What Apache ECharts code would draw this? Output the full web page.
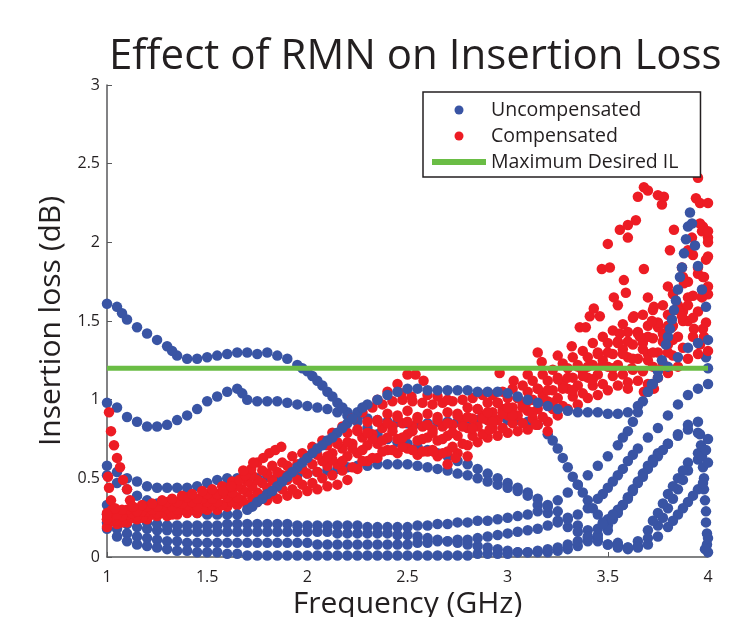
<!DOCTYPE html>
<html><head><meta charset="utf-8">
<script src="https://cdn.jsdelivr.net/npm/echarts@6/dist/echarts.min.js"></script>
<style>html,body{margin:0;padding:0;background:#fff}#c{width:729px;height:617px}</style>
</head><body><div id="c"></div>
<script>
// ---------- data ----------
const freq = [1.00,1.05,1.10,1.15,1.20,1.25,1.30,1.35,1.40,1.45,1.50,1.55,1.60,1.65,1.70,1.75,1.80,1.85,1.90,1.95,
  2.00,2.05,2.10,2.15,2.20,2.25,2.30,2.35,2.40,2.45,2.50,2.55,2.60,2.65,2.70,2.75,2.80,2.85,2.90,2.95,
  3.00,3.05,3.10,3.15,3.20,3.25,3.30,3.35,3.40,3.45,3.50,3.55,3.60,3.65,3.70,3.75,3.80,3.85,3.90,3.95,4.00];
const freqMid = [1.025,1.075,1.125,1.175,1.225,1.275,1.325,1.375,1.425,1.475,1.525,1.575,1.625,1.675,1.725,1.775,1.825,1.875,1.925,1.975,
  2.025,2.075,2.125,2.175,2.225,2.275,2.325,2.375,2.425,2.475,2.525,2.575,2.625,2.675,2.725,2.775,2.825,2.875,2.925,2.975,
  3.025,3.075,3.125,3.175,3.225,3.275,3.325,3.375,3.425,3.475,3.525,3.575,3.625,3.675,3.725,3.775,3.825,3.875,3.925,3.975];

// Uncompensated states (insertion loss, dB) on freq
const uncompA = [1.61,1.59,1.51,1.46,1.42,1.38,1.34,1.28,1.26,1.26,1.27,1.28,1.29,1.30,1.30,1.29,1.30,1.28,1.26,1.22,
  1.18,1.12,1.05,0.98,0.92,0.89,0.88,0.87,0.86,0.86,0.85,0.85,0.85,0.86,0.86,0.86,0.87,0.87,0.87,0.87,
  0.87,0.87,0.86,0.84,0.78,0.69,0.57,0.46,0.36,0.27,0.17,0.09,0.06,0.10,0.17,0.28,0.40,0.50,0.60,0.66,null];
const uncompB = [0.98,0.95,0.89,0.86,0.83,0.83,0.84,0.87,0.90,0.94,0.99,1.02,1.05,1.07,1.00,0.99,0.99,0.99,0.98,0.97,
  0.96,0.95,0.94,0.92,0.90,0.86,0.82,0.78,0.75,0.73,0.72,0.70,0.68,0.66,0.64,0.61,0.59,0.56,0.53,0.50,
  0.47,0.44,0.41,0.37,0.33,0.29,0.25,0.20,0.17,0.12,0.08,0.06,0.05,0.07,0.12,0.20,0.31,0.43,0.55,0.62,null];
const uncompC = [0.58,0.54,0.50,0.48,0.45,0.44,0.44,0.44,0.44,0.45,0.47,0.49,0.50,0.50,0.50,0.50,0.51,0.51,0.52,0.52,
  0.53,0.54,0.55,0.56,0.57,0.58,0.58,0.59,0.59,0.59,0.59,0.58,0.57,0.56,0.55,0.53,0.52,0.50,0.48,0.46,
  0.44,0.42,0.39,0.33,0.28,0.23,0.19,0.16,0.12,0.10,0.08,0.07,0.06,0.06,0.08,0.13,0.19,0.27,0.35,0.43,null];
const uncompD = [0.52,0.47,0.43,0.39,0.36,0.34,0.32,0.30,0.29,0.28,0.27,0.27,0.27,0.27,0.30,0.35,0.40,0.45,0.51,0.57,
  0.63,0.69,0.74,0.79,0.85,0.92,0.97,1.00,1.03,1.05,1.07,1.07,1.06,1.06,1.06,1.06,1.06,1.05,1.05,1.05,
  1.04,1.02,1.00,0.98,0.96,0.94,0.93,0.92,0.92,0.92,0.91,0.91,0.92,0.96,1.05,1.18,1.40,1.70,2.10,null,null];
const uncompE = [0.33,0.29,0.26,0.24,0.22,0.21,0.20,0.20,0.20,0.20,0.20,0.20,0.21,0.21,0.21,0.21,0.21,0.21,0.21,0.20,
  0.20,0.20,0.20,0.20,0.20,0.20,0.19,0.19,0.19,0.19,0.19,0.20,0.20,0.21,0.21,0.22,0.22,0.23,0.23,0.24,
  0.25,0.26,0.27,0.29,0.32,0.36,0.41,0.46,0.52,0.58,0.64,0.71,0.80,0.92,1.05,1.14,1.21,1.27,1.33,1.36,1.38];
const uncompF = [0.27,0.24,0.21,0.19,0.18,0.17,0.17,0.16,0.16,0.16,0.16,0.16,0.16,0.16,0.16,0.16,0.16,0.16,0.16,0.16,
  0.16,0.16,0.16,0.15,0.15,0.15,0.15,0.15,0.15,0.14,0.14,0.13,0.12,0.11,0.10,0.09,0.08,0.07,0.06,0.05,
  0.04,0.03,0.03,0.03,0.03,0.04,0.05,0.07,0.10,0.14,0.20,0.28,0.38,0.48,0.58,0.66,0.72,0.77,0.81,0.79,null];
const uncompG = [0.22,0.18,0.15,0.13,0.12,0.11,0.10,0.10,0.09,0.09,0.09,0.09,0.09,0.09,0.09,0.09,0.09,0.09,0.09,0.09,
  0.09,0.08,0.08,0.08,0.08,0.08,0.08,0.08,0.08,0.08,0.08,0.09,0.09,0.10,0.10,0.11,0.11,0.12,0.13,0.14,
  0.15,0.16,0.17,0.18,0.20,0.22,0.24,0.27,0.31,0.37,0.44,0.52,0.61,0.69,0.76,0.82,0.90,0.97,1.03,1.07,1.10];
const uncompH = [0.18,0.13,0.10,0.08,0.07,0.06,0.05,0.04,0.04,0.03,0.03,0.03,0.02,0.02,0.01,0.01,0.01,0.01,0.01,0.01,
  0.01,0.01,0.01,0.01,0.01,0.01,0.01,0.01,0.01,0.01,0.01,0.01,0.01,0.01,0.01,0.01,0.01,0.02,0.02,0.02,
  0.02,0.03,0.03,0.04,0.05,0.06,0.08,0.10,0.13,0.18,0.24,0.30,0.37,0.47,0.56,0.64,0.72,0.78,0.84,0.86,null];
// extra uncompensated samples on steep stretches
const uncompExtra = [[1.075,1.55],[1.325,1.31],[1.675,1.04],[1.975,1.20],[2.025,1.15],[2.075,1.09],[2.125,1.02],[2.175,0.95],
  [3.225,0.74],[3.275,0.63],[3.325,0.51],[3.375,0.41],[3.425,0.31],[3.475,0.22],[3.725,0.23],[3.775,0.34],[3.825,0.45],[3.875,0.55],
  [3.775,0.25],[3.825,0.37],[3.875,0.49],[3.825,0.23],[3.875,0.31],[3.925,0.39],
  [3.525,0.24],[3.575,0.33],[3.625,0.43],[3.675,0.53],[3.725,0.62],
  [3.475,0.21],[3.525,0.27],[3.575,0.33],[3.625,0.42],[3.675,0.51],[3.725,0.60],[3.775,0.68],
  [3.475,0.40],[3.525,0.48],[3.575,0.56],[3.625,0.65],
  [3.96,0.78],[3.965,0.71],[3.97,0.64],[3.975,0.57],[3.98,0.50],[3.98,0.43],[3.985,0.36],[3.99,0.29],[3.99,0.22],
  [3.995,0.15],[3.995,0.08],[4.0,0.03],[4.0,0.60],[4.0,0.75],[3.99,0.68],[3.975,0.47],[4.0,0.12],[3.985,0.05],[3.99,1.27],[4.0,1.20]];
const uncompSteep = [[1.725,0.32],[1.775,0.37],[1.825,0.42],[1.875,0.48],[1.925,0.54],[1.975,0.60],[2.025,0.66],[2.075,0.71],
  [2.125,0.76],[2.175,0.82],[2.225,0.88],[2.275,0.95],
  [3.72,1.10],[3.77,1.25],[3.79,1.35],[3.81,1.45],[3.82,1.51],[3.83,1.57],[3.84,1.63],[3.86,1.78],[3.87,1.84],[3.88,1.93],
  [3.89,2.02],[3.91,2.19],[3.92,2.12],[3.935,1.98],[3.95,1.85],[3.97,1.70],[3.99,1.59],
  [3.575,0.76],[3.625,0.86],[3.675,0.99],[3.725,1.10]];

// Compensated states
const compA = [0.19,0.21,0.22,0.24,0.24,0.26,0.26,0.27,0.28,0.28,0.30,0.30,0.32,0.33,0.33,0.35,0.36,0.37,0.39,0.40,
  0.42,0.43,0.45,0.46,0.49,0.56,0.61,0.63,0.68,0.66,0.69,0.65,0.67,0.64,0.67,0.66,0.71,0.73,0.76,0.77,
  0.79,0.80,0.81,0.84,0.86,0.90,0.94,0.97,1.01,1.03,1.06,1.09,1.11,1.12,1.10,1.14,1.17,1.21,1.26,1.29,1.31];
const compB = [0.23,0.22,0.25,0.25,0.27,0.28,0.27,0.30,0.30,0.31,0.33,0.33,0.35,0.36,0.37,0.39,0.40,0.43,0.43,0.46,
  0.47,0.50,0.52,0.55,0.57,0.61,0.63,0.67,0.68,0.70,0.68,0.67,0.68,0.66,0.70,0.72,0.77,0.78,0.82,0.82,
  0.85,0.85,0.88,0.89,0.94,0.96,1.02,1.04,1.09,1.10,1.15,1.16,1.19,1.18,1.21,1.23,1.28,1.33,1.40,1.45];
const compC = [0.24,0.23,0.27,0.26,0.29,0.28,0.31,0.30,0.33,0.32,0.35,0.35,0.38,0.38,0.41,0.41,0.44,0.45,0.49,0.49,
  0.53,0.54,0.58,0.59,0.64,0.66,0.71,0.72,0.76,0.75,0.78,0.74,0.76,0.74,0.77,0.77,0.82,0.83,0.87,0.87,
  0.90,0.90,0.93,0.94,0.99,1.01,1.07,1.09,1.14,1.16,1.21,1.22,1.27,1.26,1.29,1.30,1.35,1.40,1.50,1.56,1.67];
const compD = [0.26,0.26,0.28,0.29,0.30,0.32,0.32,0.34,0.35,0.37,0.37,0.40,0.41,0.43,0.45,0.47,0.49,0.52,0.53,0.56,
  0.59,0.61,0.66,0.69,0.72,0.76,0.78,0.82,0.83,0.85,0.83,0.83,0.81,0.83,0.84,0.87,0.88,0.90,0.92,0.94,
  0.95,0.97,1.00,1.03,1.06,1.10,1.14,1.18,1.22,1.25,1.29,1.32,1.35,1.36,1.39,1.42,1.47,1.56,1.66,1.78];
const compE = [0.28,0.27,0.30,0.29,0.32,0.32,0.35,0.35,0.38,0.37,0.40,0.40,0.44,0.45,0.48,0.49,0.53,0.54,0.58,0.59,
  0.64,0.65,0.71,0.73,0.79,0.81,0.86,0.87,0.91,0.90,0.93,0.89,0.91,0.89,0.92,0.91,0.95,0.94,0.98,0.98,
  1.01,1.01,1.05,1.07,1.12,1.14,1.20,1.22,1.27,1.30,1.36,1.37,1.43,1.43,1.47,1.48,1.54,1.60,1.75,1.84,2.03];
const compF = [0.30,0.30,0.32,0.33,0.34,0.36,0.37,0.39,0.40,0.42,0.43,0.45,0.48,0.50,0.52,0.55,0.58,0.60,0.64,0.66,
  0.70,0.74,0.79,0.83,0.88,0.92,0.95,0.97,0.99,1.00,0.99,0.98,0.97,0.98,0.99,1.00,1.01,1.03,1.03,1.05,
  1.07,1.09,1.12,1.16,1.19,1.23,1.27,1.31,1.36,1.40,1.44,1.48,1.52,1.54,1.57,1.60,1.67,1.78,1.92,2.10];
const compG = [null,null,null,null,null,null,null,null,null,null,null,null,null,null,null,null,null,null,null,null,null,null,
  0.62,0.61,0.69,0.68,0.75,0.74,0.80,0.76,0.80,0.75,0.79,0.75,0.79,0.83,0.82,0.88,0.86,0.91,0.90,0.95,
  0.92,0.99,0.98,1.07,1.06,1.15,1.13,1.22,1.20,1.29,1.26,1.32,1.30,1.37,1.38,1.50,1.52,1.68];
const compH = [null,null,null,null,null,null,null,null,null,null,null,null,null,null,null,null,null,null,null,null,null,null,
  0.64,0.72,0.73,0.80,0.79,0.86,0.85,0.89,0.86,0.88,0.84,0.87,0.85,0.90,0.89,0.94,0.92,0.98,0.95,1.01,
  0.99,1.07,1.06,1.13,1.14,1.21,1.21,1.29,1.30,1.36,1.37,1.42,1.40,1.46,1.47,1.58,1.65,1.80,1.91];
const compExtra = [[1.01,0.92],[1.02,0.80],[1.035,0.71],[1.05,0.63],[1.065,0.57],[1.08,0.49],[1.10,0.43],[1.115,0.36],[1.13,0.32],
  [1.005,0.51],[1.01,0.44],[1.02,0.36],[1.04,0.31],[1.0,0.24],[1.0,0.27],
  [1.58,0.42],[1.62,0.45],[1.66,0.49],[1.69,0.52],[1.72,0.56],[1.75,0.60],[1.78,0.63],[1.81,0.66],[1.84,0.68],[1.87,0.70],[1.68,0.55],[1.73,0.60],
  [2.40,1.05],[2.45,1.10],[2.47,1.04],[2.50,1.16],[2.54,1.16],[2.58,1.12],[2.52,1.02],[2.60,1.03],[2.65,1.02],[2.35,1.00],[2.70,1.00],
  [2.63,0.67],[2.70,0.59],[2.74,0.63],[2.80,0.64],[2.91,0.81],[3.14,0.84],[3.20,0.80],[3.68,1.05],[3.73,1.07],[3.60,1.07],
  [2.96,1.17],[3.03,1.12],[3.10,1.16],[3.15,1.30],[3.17,1.24],[3.25,1.28],[3.32,1.34],[3.36,1.46],[3.39,1.46],[3.41,1.53],
  [3.43,1.58],[3.46,1.53],[3.47,1.83],[3.50,1.99],[3.51,1.84],[3.53,1.65],[3.55,1.60],[3.56,2.08],[3.56,1.42],[3.58,1.76],
  [3.59,1.68],[3.60,2.11],[3.60,2.03],[3.63,1.53],[3.64,2.14],[3.65,2.29],[3.68,2.35],[3.68,1.83],[3.70,2.33],[3.70,1.65],
  [3.73,1.59],[3.75,2.30],[3.75,1.49],[3.77,2.24],[3.78,2.29],[3.80,1.72],[3.81,1.95],[3.83,2.08],[3.87,1.84],[3.88,1.74],
  [3.90,1.95],[3.92,2.03],[3.94,2.28],[3.95,2.41],[3.96,2.25],[3.96,2.12],[3.97,2.07],[4.0,2.25],[4.0,2.07],[4.0,2.00],
  [3.99,1.89],[3.98,1.78],[4.0,1.72],[3.97,1.65],[3.99,1.49],[3.98,1.40],[3.85,1.57],[3.87,1.53],[3.82,1.46],[3.78,1.40],
  [3.66,1.40],[3.72,1.50],[3.90,1.60],[3.93,1.45],[3.96,1.35],[3.80,1.30],[3.70,1.25],[3.62,1.20]];

const maxDesiredIL = 1.2;
const freqRange = [1, 4];
const xTicks = [1, 1.5, 2, 2.5, 3, 3.5, 4];
const yTicks = [0, 0.5, 1, 1.5, 2, 2.5, 3];

// ---------- build ----------
const FONT = '"Open Sans", sans-serif';
const BLUE = '#3954a4', RED = '#ed1c24', GREEN = '#6abd45';
const blueUnder = [], blueOver = [], redPts = [];
function addBlue(xs, ys, overFrom) {
  ys.forEach((y, i) => {
    if (y == null) return;
    const p = [xs[i], y];
    if (overFrom != null && xs[i] >= overFrom) blueOver.push(p); else blueUnder.push(p);
  });
}
addBlue(freq, uncompA); addBlue(freq, uncompB); addBlue(freq, uncompC);
addBlue(freq, uncompF); addBlue(freq, uncompG); addBlue(freq, uncompH);
addBlue(freq, uncompD, 1.65); addBlue(freq, uncompE, 3.6);
uncompExtra.forEach(p => blueUnder.push(p));
uncompSteep.forEach(p => blueOver.push(p));
function addRed(xs, ys) { ys.forEach((y, i) => { if (y != null) redPts.push([xs[i], y]); }); }
addRed(freq, compA); addRed(freqMid, compB); addRed(freq, compC);
addRed(freqMid, compD); addRed(freq, compE); addRed(freqMid, compF);
addRed(freqMid, compG); addRed(freq, compH);
compExtra.forEach(p => redPts.push(p));

const chart = echarts.init(document.getElementById('c'), null, { renderer: 'canvas' });
const scatterBase = { type: 'scatter', symbol: 'circle', symbolSize: 10.5, animation: false, emphasis: { disabled: true }, silent: true };
chart.setOption({
  animation: false,
  title: {
    text: 'Effect of RMN on Insertion Loss', left: 104, top: 31,
    textStyle: { fontFamily: FONT, fontSize: 42, fontWeight: 'normal', color: '#231f20' }
  },
  grid: { left: 107, right: 21, top: 85, bottom: 60, containLabel: false, outerBoundsMode: 'none' },
  legend: {
    orient: 'vertical', left: 423, top: 92,
    backgroundColor: '#fff', borderColor: '#231f20', borderWidth: 1.5, borderRadius: 0,
    padding: [8, 22, 5, 9], itemWidth: 54, itemHeight: 9, itemGap: 6,
    textStyle: { fontFamily: FONT, fontSize: 19.5, color: '#231f20' },
    selectedMode: false,
    data: [{ name: 'Uncompensated', icon: 'circle' }, { name: 'Compensated', icon: 'circle' },
           { name: 'Maximum Desired IL', icon: 'path://M0,0H54V6H0Z' }]
  },
  xAxis: {
    type: 'value', min: freqRange[0], max: freqRange[1], interval: 0.5,
    name: 'Frequency (GHz)', nameLocation: 'middle', nameGap: 26,
    nameTextStyle: { fontFamily: FONT, fontSize: 30, color: '#231f20' },
    axisLine: { show: true, onZero: false, lineStyle: { color: '#58595b', width: 1.5 } },
    axisTick: { show: true, inside: true, length: 5, lineStyle: { color: '#58595b' } },
    axisLabel: { fontFamily: FONT, fontSize: 16, color: '#231f20', margin: 12,
      formatter: v => xTicks.includes(v) ? String(v) : '' },
    splitLine: { show: false }
  },
  yAxis: {
    type: 'value', min: 0, max: 3, interval: 0.5,
    name: 'Insertion loss (dB)', nameLocation: 'middle', nameGap: 40, nameRotate: 90,
    nameTextStyle: { fontFamily: FONT, fontSize: 30, color: '#231f20' },
    axisLine: { show: true, onZero: false, lineStyle: { color: '#58595b', width: 1.5 } },
    axisTick: { show: true, inside: true, length: 5, lineStyle: { color: '#58595b' } },
    axisLabel: { fontFamily: FONT, fontSize: 16, color: '#231f20', margin: 7,
      formatter: v => yTicks.includes(v) ? String(v) : '' },
    splitLine: { show: false }
  },
  series: [
    Object.assign({}, scatterBase, { name: 'Uncompensated', data: blueUnder, itemStyle: { color: BLUE, opacity: 1 }, z: 2 }),
    Object.assign({}, scatterBase, { name: 'Compensated', data: redPts, itemStyle: { color: RED, opacity: 1 }, z: 3 }),
    Object.assign({}, scatterBase, { name: 'Uncompensated', data: blueOver, itemStyle: { color: BLUE, opacity: 1 }, z: 4 }),
    { type: 'line', name: 'Maximum Desired IL', data: [[freqRange[0], maxDesiredIL], [freqRange[1], maxDesiredIL]],
      symbol: 'none', silent: true, animation: false, z: 5,
      lineStyle: { color: GREEN, width: 5 }, itemStyle: { color: GREEN } }
  ]
});
</script></body></html>
